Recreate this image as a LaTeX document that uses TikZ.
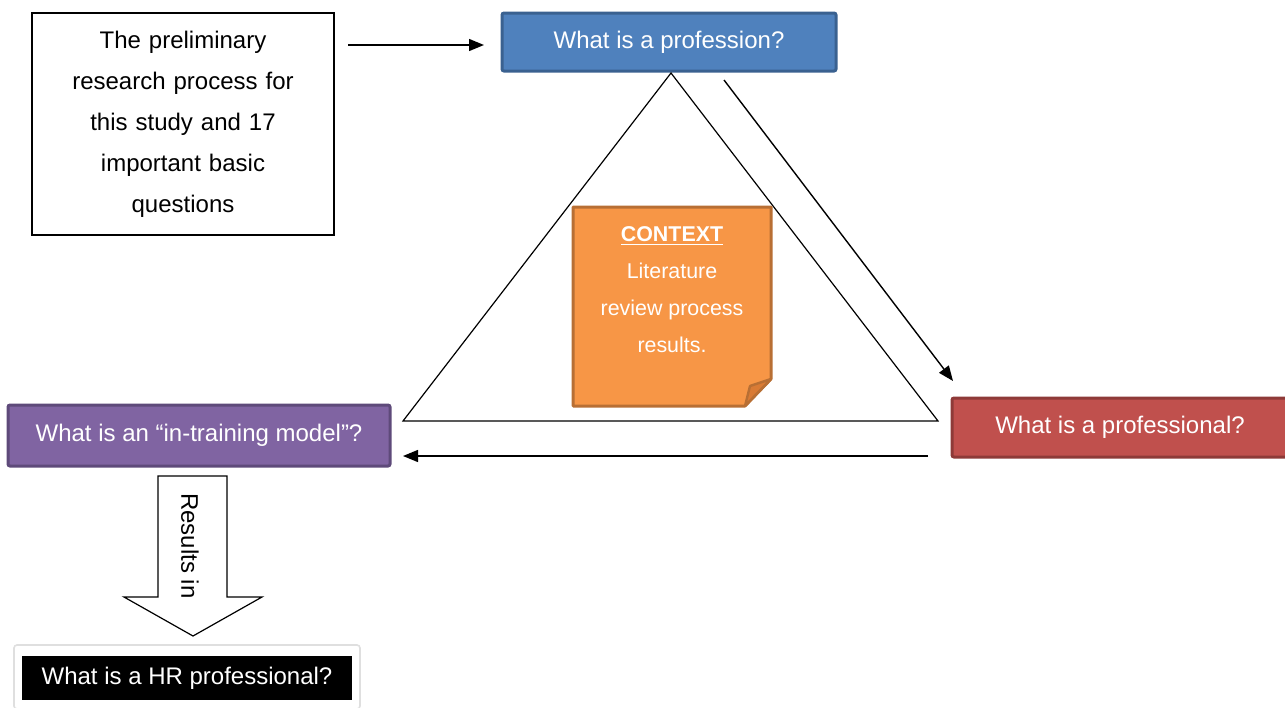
\documentclass[tikz,border=0pt]{standalone}
\usepackage{fontspec}
\setmainfont{Liberation Sans}
\usetikzlibrary{arrows.meta,calc}
\definecolor{blueF}{HTML}{4F81BD}\definecolor{blueD}{HTML}{3A6190}
\definecolor{redF}{HTML}{C0504D}\definecolor{redD}{HTML}{8E3A38}
\definecolor{purF}{HTML}{8064A2}\definecolor{purD}{HTML}{5E4A7A}
\definecolor{orF}{HTML}{F79646}\definecolor{orD}{HTML}{B86F34}\definecolor{orFold}{HTML}{D97B35}
\tikzset{
  qbox/.style={draw=#1D, fill=#1F, line width=1.5pt, rounded corners=1pt, text=white,
    inner sep=0pt, font=\fontsize{12}{14}\selectfont},
  link/.style={line width=0.7pt, -{Triangle[length=7.5pt,width=6pt]}},
  plain/.style={draw=black, line width=0.6pt},
}
\begin{document}
\begin{tikzpicture}[x=0.5pt,y=-0.5pt]
\useasboundingbox (0,0) rectangle (1285,707);

% introductory text box
\node[plain, fill=white, minimum width=151pt, minimum height=111pt, inner sep=0pt,
      text width=140pt, align=center, font=\fontsize{12}{20.5}\selectfont]
  (intro) at (183,124) {The preliminary\\research process for\\this study and 17\\important basic\\questions};

% the three questions at the corners
\node[qbox=blue, minimum width=167pt, minimum height=29pt] (prof) at (669,42) {What is a profession?};
\node[qbox=red, minimum width=168pt, minimum height=29.5pt] (pro) at (1120,427.5) {What is a professional?};
\node[qbox=pur, minimum width=191pt, minimum height=30.5pt] (model) at (199,435.5) {What is an “in-training model”?};

% triangle
\coordinate (ta) at (671,73);
\coordinate (tl) at (403,421);
\coordinate (tr) at (938,421);
\draw[line width=0.6pt] (ta) -- (tl) -- (tr) -- cycle;

% context note with folded corner
\coordinate (n1) at (573,207);
\coordinate (n2) at (771,207);
\coordinate (n3) at (771,379);
\coordinate (n4) at (745,406);
\coordinate (n5) at (573,406);
\filldraw[fill=orF, draw=orD, line width=1.5pt, line join=round] (n1) -- (n2) -- (n3) -- (n4) -- (n5) -- cycle;
\filldraw[fill=orFold, draw=orD, line width=1.2pt, line join=round] (n3) -- (750,386) -- (n4) -- cycle;
\node[text=white, align=center, font=\fontsize{10.7}{18.5}\selectfont, anchor=north] (ctx) at (672,219)
  {\textbf{\underline{CONTEXT}}\\Literature\\review process\\results.};

% connecting arrows
\coordinate (a1s) at (348,45);
\coordinate (a1e) at (484,45);
\draw[link] (a1s) -- (a1e);
\coordinate (a2s) at (724,80);
\coordinate (a2e) at (953,381);
\draw[link] (a2s) -- (a2e);
\coordinate (a3s) at (928,456);
\coordinate (a3e) at (403,456);
\draw[link] (a3s) -- (a3e);

% block arrow "Results in"
\draw[plain, fill=white, line join=miter]
  (158,476) -- (227,476) -- (227,597) -- (262,597) -- (193,636) -- (124,597) -- (158,597) -- cycle;
\node[rotate=-90, font=\fontsize{12}{14}\selectfont] (res) at (190,546) {Results in};

% final question
\node[draw=gray!25, fill=white, line width=0.8pt, rounded corners=1.5pt,
      minimum width=173pt, minimum height=32pt] (hrbg) at (187,677) {};
\node[fill=black, text=white, inner sep=0pt, minimum width=165pt, minimum height=22pt,
      font=\fontsize{12}{14}\selectfont] (hr) at (187,678) {What is a HR professional?};
\end{tikzpicture}
\end{document}
